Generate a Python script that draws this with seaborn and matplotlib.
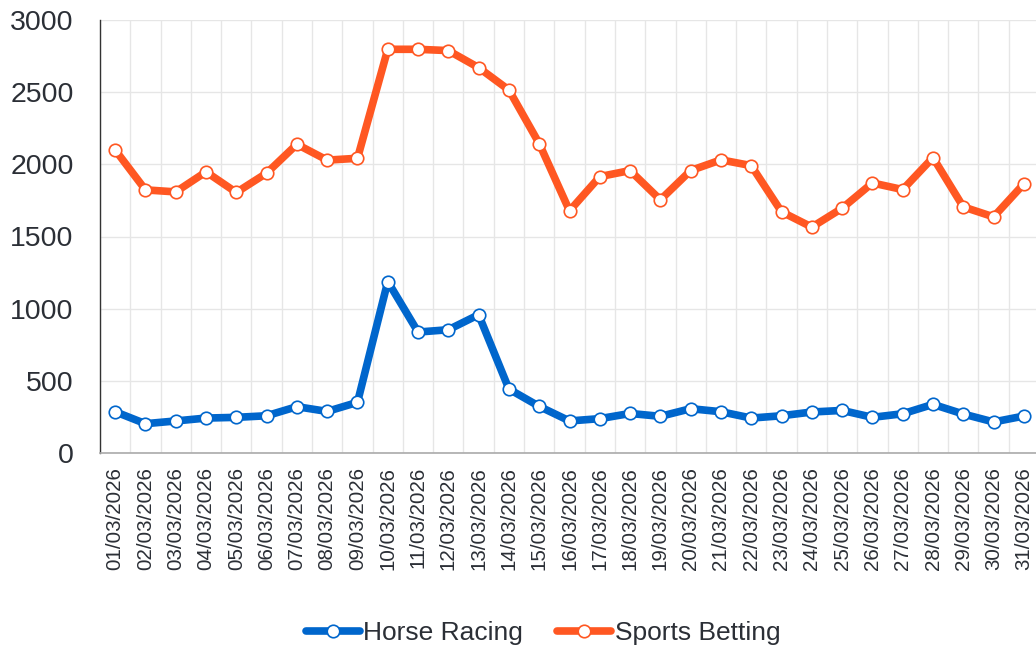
import numpy as np
import pandas as pd
import matplotlib.pyplot as plt
import seaborn as sns
from matplotlib.ticker import FixedLocator

dates = ['%02d/03/2026' % d for d in range(1, 32)]

horse_racing = [286, 203, 222, 242, 247, 258, 321, 288, 351, 1188,
                838, 854, 958, 443, 323, 222, 238, 274, 254, 307,
                286, 242, 258, 284, 295, 247, 272, 337, 270, 215, 256]
sports_betting = [2100, 1823, 1809, 1948, 1805, 1939, 2139, 2029, 2042, 2797,
                  2797, 2788, 2670, 2515, 2144, 1678, 1915, 1957, 1754, 1957,
                  2031, 1991, 1671, 1565, 1696, 1871, 1825, 2047, 1705, 1636, 1865]

series_names = ['Horse Racing', 'Sports Betting']
colors = ['#0066cc', '#ff5722']

df = pd.DataFrame({
    'Date': dates * 2,
    'Value': horse_racing + sports_betting,
    'Series': [series_names[0]] * 31 + [series_names[1]] * 31,
})

sns.set_style('white')
plt.rcParams['font.family'] = ['Liberation Sans', 'DejaVu Sans']
text_color = '#2b2f36'

fig = plt.figure(figsize=(10.36, 6.47), dpi=100)
ax = fig.add_axes([100 / 1036, 1 - 453 / 647, 1 - 100 / 1036, (453 - 20) / 647])

sns.lineplot(data=df, x='Date', y='Value', hue='Series', palette=colors,
             linewidth=5.5, marker='o', markersize=9, markerfacecolor='white',
             markeredgewidth=1.2, ax=ax, legend=False, sort=False)
# marker edges same colour as line
for line, c in zip(ax.lines, colors):
    line.set_markeredgecolor(c)
    line.set_solid_capstyle('round')
    line.set_solid_joinstyle('round')

ax.set_xlim(-0.5, 30.4)
ax.set_ylim(0, 3000)
ax.set_yticks([0, 500, 1000, 1500, 2000, 2500, 3000])
ax.set_xticks(range(31))
ax.set_xticklabels(dates, rotation=90, fontsize=14.8, color=text_color)
ax.tick_params(axis='x', which='major', length=0, pad=10)
ax.xaxis.set_minor_locator(FixedLocator(np.arange(-0.5, 31, 1)))
ax.tick_params(axis='x', which='minor', length=6, width=1, color='#aaaaaa', direction='out')
ax.tick_params(axis='y', length=8, width=1, color='#333333', labelsize=20.5,
               labelcolor=text_color, pad=11)
ax.set_xlabel('')
ax.set_ylabel('')

ax.grid(True, which='minor', axis='x', color='#e6e6e6', linewidth=1)
ax.grid(True, which='major', axis='y', color='#e6e6e6', linewidth=1)
ax.set_axisbelow(True)

for s in ['top', 'right']:
    ax.spines[s].set_visible(False)
ax.spines['left'].set_color('#333333')
ax.spines['left'].set_linewidth(1)
ax.spines['bottom'].set_color('#aaaaaa')
ax.spines['bottom'].set_linewidth(1.2)

handles = [plt.Line2D([], [], color=c, linewidth=5.5, marker='o', markersize=9,
                      markerfacecolor='white', markeredgecolor=c, markeredgewidth=1.2,
                      solid_capstyle='round')
           for c in colors]
fig.legend(handles, series_names, loc='center', bbox_to_anchor=(543 / 1036, 1 - 633 / 647),
           ncol=2, frameon=False, fontsize=19, handlelength=2.05, handletextpad=0.12,
           columnspacing=1.3, labelcolor=text_color)

fig.savefig('out.png', dpi=100)
